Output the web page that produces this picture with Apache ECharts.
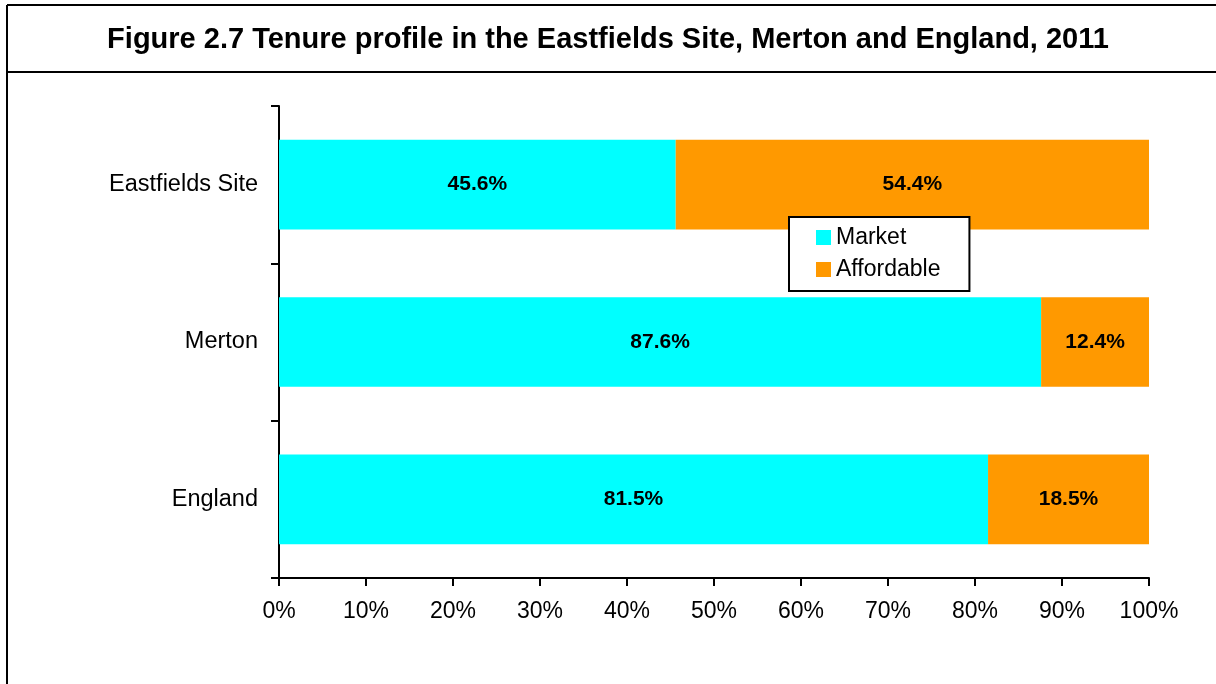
<!DOCTYPE html>
<html>
<head>
<meta charset="utf-8">
<script src="https://cdn.jsdelivr.net/npm/echarts@6/dist/echarts.min.js"></script>
<style>
  html, body { margin: 0; padding: 0; background: #fff; }
  #main { width: 1216px; height: 684px; }
</style>
</head>
<body>
<div id="main"></div>
<script>
var areas = ['Eastfields Site', 'Merton', 'England'];
var market = [45.6, 87.6, 81.5];
var affordable = [54.4, 12.4, 18.5];
var xTicks = [0, 10, 20, 30, 40, 50, 60, 70, 80, 90, 100];

var font = '"Liberation Sans", Arial, sans-serif';

var myChart = echarts.init(document.getElementById('main'));

var barLabel = {
    show: true,
    position: 'inside',
    color: '#000',
    fontFamily: font,
    fontWeight: 'bold',
    fontSize: 21,
    formatter: function (p) { return p.value.toFixed(1) + '%'; }
};

myChart.setOption({
    animation: false,
    title: {
        text: 'Figure 2.7 Tenure profile in the Eastfields Site, Merton and England, 2011',
        left: 'center',
        top: 20,
        textStyle: { fontFamily: font, fontWeight: 'bold', fontSize: 29, color: '#000' }
    },
    graphic: [
        { type: 'line', shape: { x1: 7, y1: 5, x2: 1216, y2: 5 }, style: { stroke: '#000', lineWidth: 2 } },
        { type: 'line', shape: { x1: 7, y1: 5, x2: 7, y2: 684 }, style: { stroke: '#000', lineWidth: 2 } },
        { type: 'line', shape: { x1: 7, y1: 72, x2: 1216, y2: 72 }, style: { stroke: '#000', lineWidth: 2 } }
    ],
    legend: {
        orient: 'vertical',
        left: 789,
        top: 217,
        padding: [9, 29, 10, 27],
        itemGap: 9,
        itemWidth: 15,
        itemHeight: 15,
        icon: 'rect',
        borderColor: '#000',
        borderWidth: 2,
        backgroundColor: '#fff',
        textStyle: { fontFamily: font, fontSize: 23, color: '#000' },
        data: ['Market', 'Affordable']
    },
    grid: { left: 279, right: 67, top: 106, bottom: 106, containLabel: false },
    xAxis: {
        type: 'value',
        min: 0,
        max: 100,
        interval: 10,
        axisLine: { show: true, lineStyle: { color: '#000', width: 2 } },
        axisTick: { show: true, length: 8, lineStyle: { color: '#000', width: 2 } },
        splitLine: { show: false },
        axisLabel: {
            margin: 22,
            fontFamily: font,
            fontSize: 23,
            color: '#000',
            formatter: function (v) { return xTicks.indexOf(v) >= 0 ? v + '%' : ''; }
        }
    },
    yAxis: {
        type: 'category',
        inverse: true,
        data: areas,
        axisLine: { show: true, lineStyle: { color: '#000', width: 2 } },
        axisTick: { show: true, length: 8, lineStyle: { color: '#000', width: 2 } },
        axisLabel: { margin: 21, fontFamily: font, fontSize: 23.5, color: '#000' }
    },
    series: [
        {
            name: 'Market',
            type: 'bar',
            stack: 'tenure',
            barWidth: '57%',
            itemStyle: { color: '#00FFFF' },
            label: barLabel,
            data: market
        },
        {
            name: 'Affordable',
            type: 'bar',
            stack: 'tenure',
            barWidth: '57%',
            itemStyle: { color: '#FF9900' },
            label: barLabel,
            data: affordable
        }
    ]
});
</script>
</body>
</html>
